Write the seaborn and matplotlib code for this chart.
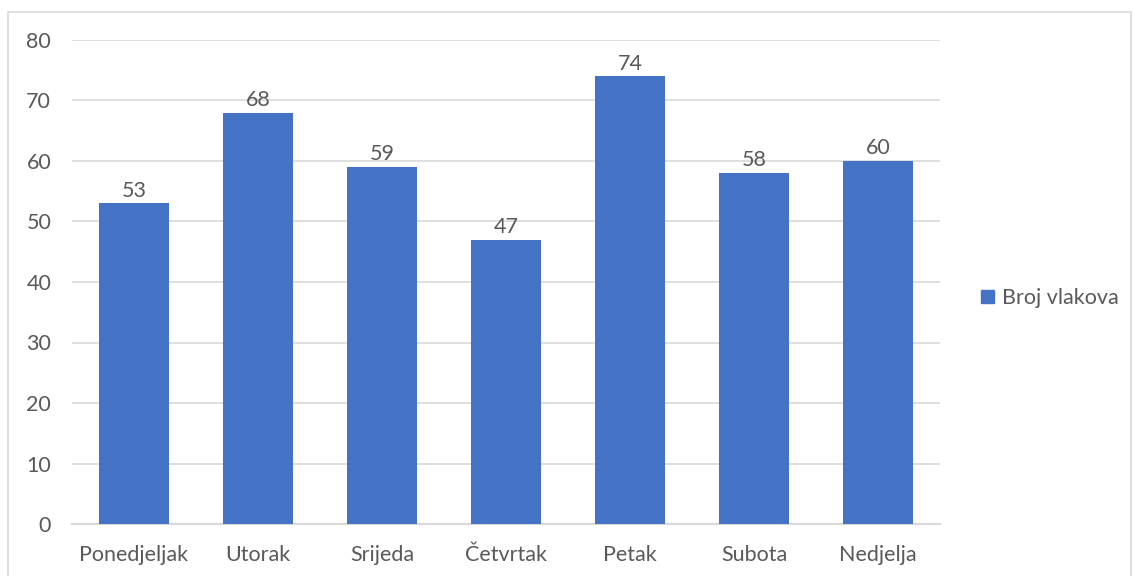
import matplotlib
matplotlib.use("Agg")
import matplotlib.pyplot as plt
import seaborn as sns
import pandas as pd
from matplotlib.patches import Rectangle, Patch

days = ["Ponedjeljak", "Utorak", "Srijeda", "Četvrtak", "Petak", "Subota", "Nedjelja"]
trains = [53, 68, 59, 47, 74, 58, 60]
series_name = "Broj vlakova"
yticks = [0, 10, 20, 30, 40, 50, 60, 70, 80]

sns.set_theme(style="white")
plt.rcParams['font.family'] = ['Lato', 'DejaVu Sans']

TXT = "#595959"
BAR = "#4472C4"
GRID = "#D9D9D9"
FS = 15.5

df = pd.DataFrame({"day": days, "value": trains})

fig = plt.figure(figsize=(11.33, 5.76), dpi=100)
ax = fig.add_axes([72/1133, 1-524/576, (940-72)/1133, (524-40)/576])

sns.barplot(data=df, x="day", y="value", color=BAR, width=0.57, ax=ax,
            saturation=1, zorder=3, linewidth=0)

ax.set_ylim(0, 80)
ax.set_xlim(-0.5, len(days) - 0.5)
ax.set_yticks(yticks)
ax.set_yticklabels([str(t) for t in yticks], color=TXT, fontsize=FS)
ax.set_xticks(range(len(days)))
ax.set_xticklabels(days, color=TXT, fontsize=FS)
ax.tick_params(axis='both', length=0)
ax.tick_params(axis='y', pad=15)
ax.tick_params(axis='x', pad=15)
ax.set_xlabel("")
ax.set_ylabel("")
ax.grid(axis='y', color=GRID, linewidth=1.2, zorder=0)
for s in ["top", "right", "left"]:
    ax.spines[s].set_visible(False)
ax.spines["bottom"].set_color(GRID)
ax.spines["bottom"].set_linewidth(1.5)

for c in ax.containers:
    ax.bar_label(c, labels=[str(v) for v in trains], padding=2, color=TXT, fontsize=FS)

handles = [Patch(facecolor=BAR, edgecolor=BAR, label=series_name)]
fig.legend(handles=handles, loc="center left", bbox_to_anchor=(962/1133, 1-298/576),
           frameon=False, fontsize=FS, labelcolor=TXT, handlelength=0.6,
           handleheight=0.6, handletextpad=0.35)

fig.patches.append(Rectangle((8/1133, -0.01), (1131-8)/1133, 1-12/576 + 0.01,
                             transform=fig.transFigure, fill=False,
                             edgecolor="#D9D9D9", linewidth=1.2))

fig.savefig("out.png", dpi=100, facecolor="white")
